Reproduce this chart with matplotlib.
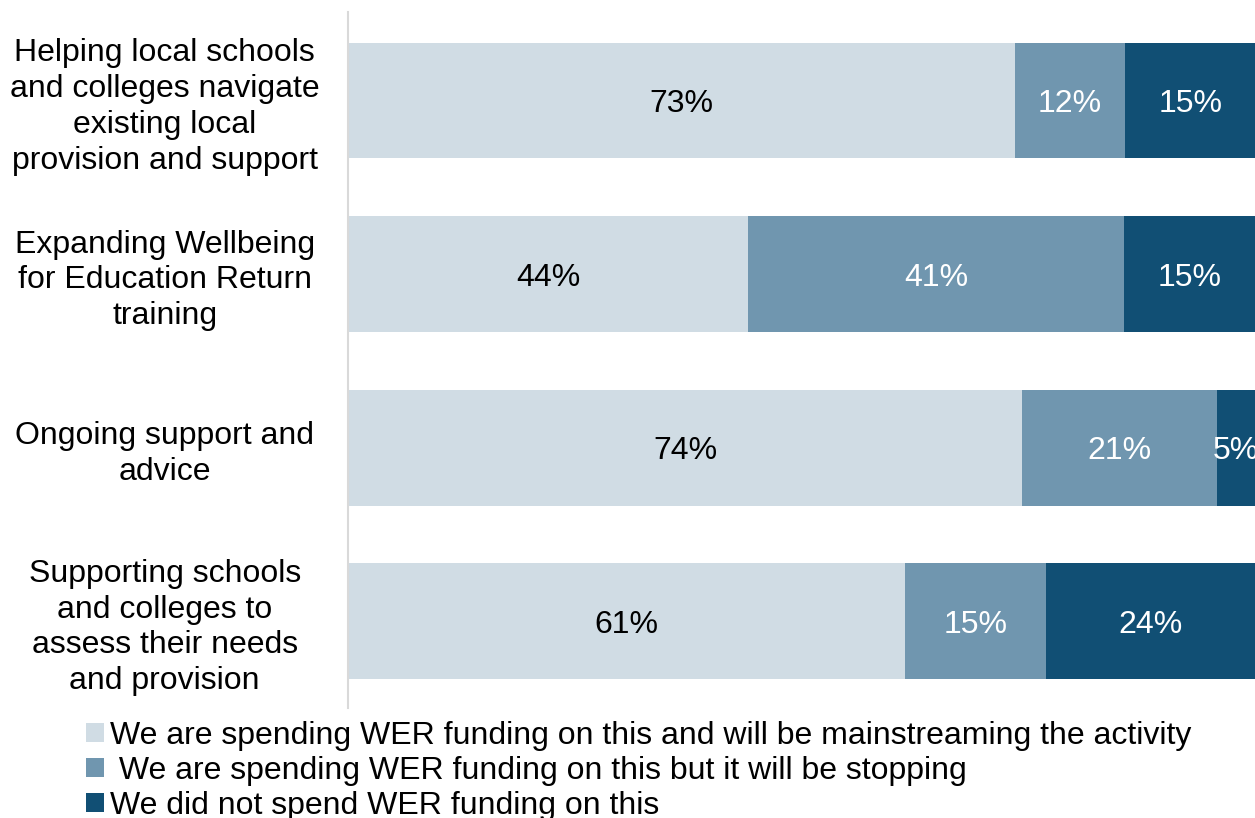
import numpy as np
import matplotlib.pyplot as plt

plt.rcParams['font.family'] = ['Liberation Sans', 'DejaVu Sans']

categories = [
    'Helping local schools\nand colleges navigate\nexisting local\nprovision and support',
    'Expanding Wellbeing\nfor Education Return\ntraining',
    'Ongoing support and\nadvice',
    'Supporting schools\nand colleges to\nassess their needs\nand provision',
]
mainstreaming = [73.5, 44.1, 74.3, 61.4]
stopping = [12.2, 41.5, 21.5, 15.6]
not_spent = [14.3, 14.4, 4.2, 23.0]
pct_labels = [
    ['73%', '44%', '74%', '61%'],
    ['12%', '41%', '21%', '15%'],
    ['15%', '15%', '5%', '24%'],
]
series_names = [
    'We are spending WER funding on this and will be mainstreaming the activity',
    ' We are spending WER funding on this but it will be stopping',
    'We did not spend WER funding on this',
]
colors = ['#D0DCE4', '#7096AF', '#114F74']
text_colors = ['black', 'white', 'white']

fig = plt.figure(figsize=(12.55, 8.18), dpi=100)
ax = fig.add_axes([348 / 1255, 1 - 708 / 818, 1 - 348 / 1255, 696 / 818])

y = np.arange(len(categories))
left = np.zeros(len(categories))
for vals, col, tcol, labs, name in zip([mainstreaming, stopping, not_spent],
                                        colors, text_colors, pct_labels, series_names):
    vals = np.array(vals)
    ax.barh(y, vals, left=left, height=0.667, color=col, label=name)
    for yi, (l, v, lab) in enumerate(zip(left, vals, labs)):
        ax.text(l + v / 2, yi, lab, ha='center', va='center_baseline',
                fontsize=23, color=tcol)
    left = left + vals

ax.set_xlim(0, 100)
ax.set_ylim(3.5, -0.51)
ax.set_yticks(y)
ax.set_yticklabels(categories, fontsize=23, ha='center', linespacing=1.25)
ax.tick_params(axis='y', length=0, pad=132)
ax.set_xticks([])
for s in ['top', 'right', 'bottom']:
    ax.spines[s].set_visible(False)
ax.spines['left'].set_color('#D9D9D9')
ax.spines['left'].set_linewidth(1.5)

fig.legend(loc='upper left', bbox_to_anchor=(86 / 1255, 1 - 721 / 818),
           frameon=False, fontsize=23, handlelength=0.55, handleheight=0.55,
           handletextpad=0.2, labelspacing=0.15, borderpad=0, borderaxespad=0)

fig.savefig('out.png', dpi=100)
